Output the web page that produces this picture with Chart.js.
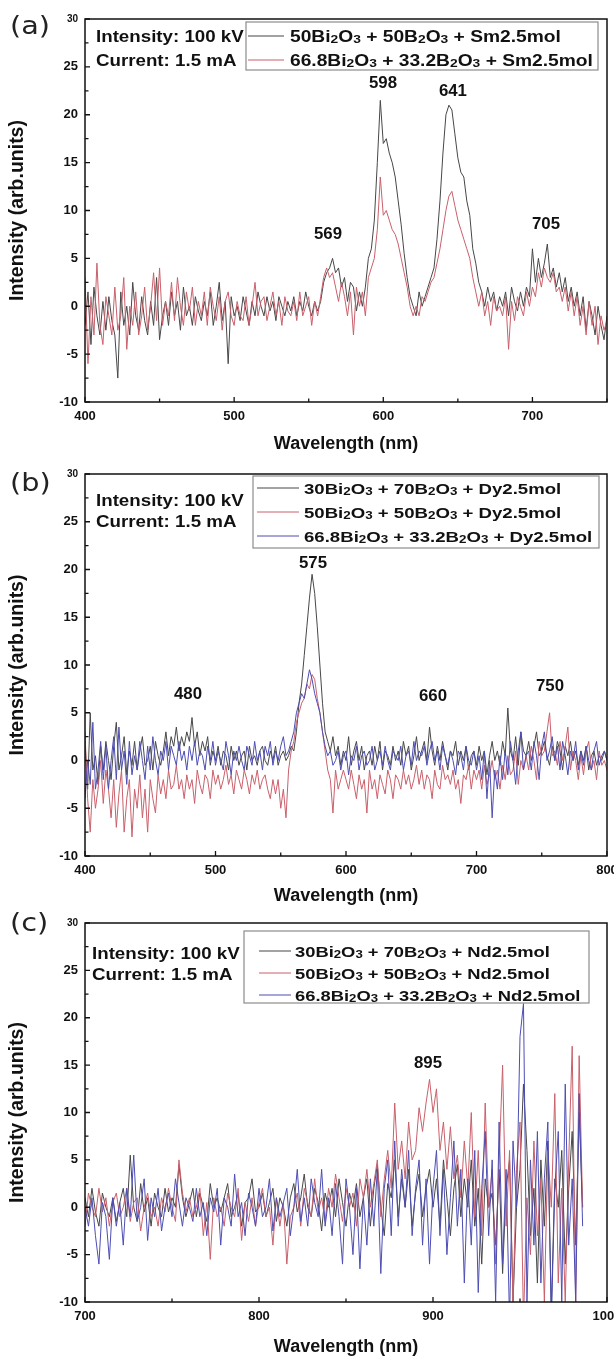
<!DOCTYPE html>
<html>
<head>
<meta charset="utf-8">
<title>X-ray excited luminescence spectra</title>
<script src="https://cdn.jsdelivr.net/npm/chart.js@4.4.1/dist/chart.umd.min.js"></script>
<style>
    body { margin: 0; background: #fff; }
    #wrap { position: relative; width: 614px; height: 1358px; }
    canvas { position: absolute; left: 0; }
</style>
</head>
<body>
<div id="wrap">
    <canvas id="chartA" width="614" height="455" style="top:0px"></canvas>
    <canvas id="chartB" width="614" height="452" style="top:455px"></canvas>
    <canvas id="chartC" width="614" height="451" style="top:907px"></canvas>
</div>
<script>
// ---- data (a): Sm doped, 400-750 nm, every 2 nm
const smStart = 400, smStep = 2;
const smBi50 = [
    -2, 1.5, -4, 2, -1, -3, 0.5, -2.5, 1, -1.5,
    -3, -7.5, 1.5, -2, 0, -3, 2.5, -1, -2.5, 1,
    -1.5, -3, 0.5, -2, 3, -3.5, -1, 0.5, -2, 1.5,
    -1, 0.5, -2.5, 2, -1, 0, -2, 1, -0.5, -1.5,
    0.5, -1, 1.5, -2, 0, 2.5, -1.5, 0.5, -6, 1,
    -1, 0, -1.5, 1, -0.5, -2, 0.5, -1, 1.5, 0,
    -1, 1, -0.5, 0.5, -1.5, 1, 0, -1, 0.5, -0.5,
    1, -1, 0.5, -0.5, 1.5, 0, -1, 0.5, -0.5, 0.5,
    2.5, 3.5, 4, 5, 3.5, 4, 2, 3, 0.5, 2.5,
    2, -0.5, 1.5, 0, 2, 5, 6, 9, 15, 21.5,
    17, 17.5, 16, 15, 13.5, 11, 8.5, 5.5, 3, 1,
    0, -1, 1.5, 0, 1, 2, 3, 4, 7, 11,
    16, 20, 21, 20.5, 18, 15.5, 14, 13.5, 11, 9.5,
    6, 4.5, 2.5, 1.5, 0, 2, 0.5, 1.5, -0.5, 1,
    0, 1.5, -1, 2, 0.5, -0.5, 1.5, 0, 2, 1,
    6, 2.5, 5, 3, 4.5, 6.5, 3, 4, 2, 3.5,
    1.5, 3, 0.5, 2, 0, 1.5, -1, 1, -2.5, 0.5,
    -1, -3, 0, -2, -3.5, -1
];
const smBi668 = [
    3, -6, 1, -3, 4.5, -2, -4, 1, -1, -3,
    2, -2.5, -1, 3, -4.5, 0, -2, 1.5, -3, -1,
    2, -2.5, 0, 3.5, -1.5, 4, -2, 0.5, -1, 2.5,
    -1.5, 3, 0, -2, 1.5, -0.5, 2, -2, 0.5, -1,
    1.5, -2, 2, 0, -1.5, 1, -2.5, 0.5, 1.5, -1,
    -2, 0.5, -1, -1.5, 1, -2, 0, 2.5, -1, 0.5,
    1, -1.5, 0, 1.5, -1, 0.5, -2, 1, -0.5, -1,
    0.5, -1.5, 1.5, -1, 0, 1, -2, 0.5, -1, 1,
    3, 4, 3, 3.5, 2, 0.5, 2.5, 1, -1, 1.5,
    -3, 2, 0, 1.5, -1, 3, 4, 5, 8, 13.5,
    9.5, 10, 9, 8, 7.5, 6.5, 5, 3.5, 2, 0,
    -1, 0, -1, 1, 0.5, 1.5, 2.5, 3, 4.5, 6,
    8, 10, 11.5, 12, 10.5, 9, 8, 7, 6, 5,
    3, 1.5, 0, 1.5, -1, 0.5, -2, 1, -0.5, 0,
    -1, 1, -4.5, 0.5, -1.5, 1, 0, -1, 1.5, 0,
    2, 1, 3.5, 2, 4, 3, 2.5, 3.5, 1.5, 2,
    0.5, 2, -0.5, 1.5, -1, 1, -2, 0, -3, 0.5,
    -2, 0, -4, -1, -2.5, -1.5
];
const smLegend = ['50Bi₂O₃ + 50B₂O₃ + Sm2.5mol', '66.8Bi₂O₃ + 33.2B₂O₃ + Sm2.5mol'];
const smPeaks = ['598', '641', '569', '705'];

// ---- data (b): Dy doped, 400-800 nm, every 2 nm
const dyStart = 400, dyStep = 2;
const dyBi30 = [
    2, -3, 5, -1, 0.5, -2.5, 1.5, -1, 2, 0,
    -2, 1.5, 4, -1, 0.5, 2.5, -1.5, 1, -0.5, 2,
    -1, 1, 2.5, -0.5, 0, 1.5, -1, 2, 0.5, -0.5,
    1, 3, 0.5, 2.5, 1.5, 3.5, 1, 2.5, 1.5, 3,
    2, 4.5, 1.5, 3, 0.5, 2, 1, 2.5, -0.5, 1,
    0, 1.5, -0.5, 1, 0.5, -1, 1.5, 0, 1, -0.5,
    0.5, 1, -1, 1.5, 0, 0.5, -0.5, 1, 1.5, 0,
    -0.5, 1, 0, 1.5, -0.5, 0.5, 1, 0, 0.5, 1.5,
    1, 3, 6, 8, 11, 14, 17, 19.5, 17.5, 14,
    10, 6, 3, 2, 1, 2.5, 0.5, 1.5, -0.5, 1,
    0, 2.5, -0.5, 1, 2, 0, 1.5, -1, 0.5, 1,
    -0.5, 1.5, 0, 2, -1, 1, 0.5, -0.5, 1.5, 0,
    1, -0.5, 2, 0.5, 1.5, -1, 0.5, 2.5, 0, 1,
    2, 0, 3.5, 1, -0.5, 1.5, 0, 2, 0.5, -1,
    1, 0.5, 2, -0.5, 1, 0, 1.5, -1, 0.5, 1,
    -0.5, 1.5, 0, 1, -1.5, 0.5, 2, 0, 1, -0.5,
    2, 0.5, 5.5, 1, 0, 2.5, -0.5, 3, 1, 0.5,
    2, 0, 1.5, 3, 0.5, 1, 2, 0.5, -0.5, 1.5,
    0, 2, 1, -1, 1.5, 0.5, 2, 0, 1, -0.5,
    1, 0, 1.5, -1, 0.5, 1, -0.5, 0.5, 0, 1,
    0
];
const dyBi50 = [
    3, -4, -7.5, -2, -5, -3, 0, -4.5, -1, -3,
    -6, -2, -7, -3.5, -1, -7.5, -4, -2, -8, -3,
    -5, -1.5, -6, -3, -7.5, -2, -4, -5.5, -1.5, -3.5,
    -2, -4, -1, -3, -2.5, -0.5, -3, -2, -4, -1.5,
    -3, -2, -4.5, -1, -2.5, -3.5, -1.5, -2, -4, -1,
    -2.5, -1.5, -3, -2, -0.5, -2.5, -1.5, -3.5, -1, -2,
    -3, -1, -2, -3.5, -1.5, -2.5, -1, -3, -2, -1.5,
    -3, -4, -2, -3.5, -2, -5, -3, -6, -1, 1,
    2, 4, 5, 6, 6.5, 8, 7.5, 9, 8.5, 6.5,
    5, 3, 1, -1, -2, -5.5, -1, -3, -2, -1,
    -2, -3, -1, -2.5, -4, -1.5, -3, -2, -5.5, -1,
    -3, -2, -4, -1.5, -2.5, -3.5, -1, -2, -4, -1.5,
    -2, -3, -1, -2.5, -1.5, -3, -2, -0.5, -2.5, -1,
    -3, -1.5, -2, -4, -1, -2.5, -3, -0.5, -2, -1.5,
    -2.5, -1, -3, -2, -4.5, -1.5, -2, -0.5, -3, -1,
    -2, -1, -3, -0.5, -2.5, -1.5, 0, -2, -1, -3,
    -0.5, -2, 0.5, -1.5, -1, 1, -2.5, 0, -1, 0.5,
    -1, 1.5, 0, -2, 2, 0.5, 1, 3, 5, 0.5,
    1, -0.5, 2, 0, 1.5, 3.5, -1, 1, 0, -2,
    0.5, -1.5, 1, 2, -1, 0, -2, 1, -0.5, 0,
    -1
];
const dyBi668 = [
    -4, 0, -2.5, 4, -3, -1, 2, -2, 1.5, -3,
    0, 2.5, -2, 3.5, -1, 1, -2.5, 2, -1.5, 0.5,
    -1, 2, 0, -2, 1.5, -1, 2.5, 0, -1.5, 1,
    0, 2, -1, 1.5, 0.5, -0.5, 2, 0, 1, -1,
    1.5, 0, 2, -0.5, 1, 0.5, -1, 1.5, 0, 2,
    -0.5, 1, 0, -1, 2, 0.5, -1.5, 1, 0, 1.5,
    0, -1, 1.5, 0.5, -0.5, 2, 0, 1, -1, 1.5,
    0.5, 2, -0.5, 1, 0, 1.5, 2.5, 0.5, 1, 2,
    3, 5, 6, 7, 6.5, 8, 9.5, 8.5, 7, 6,
    5, 3, 1.5, 0.5, 1, -0.5, 0, 1, -1, 0.5,
    1, -1.5, 0.5, 0, 1.5, -1, 0.5, 1, -0.5, 0,
    1.5, -1, 0, 1, -0.5, 1.5, 0, -1, 1, 0.5,
    0, 1.5, -1, 0.5, 1, -0.5, 2, 0, 1, 0.5,
    1.5, -0.5, 1, 2, 0, 1, -1, 1.5, 0.5, -0.5,
    1, 0, -1.5, 1, 0.5, -1, 1.5, 0, -0.5, 1,
    -1, 0.5, -2, 1, -4, 0, -6, -1, -3, 0.5,
    -2, 1, -1.5, 2, 0, -2.5, 1, 3, -1, 0.5,
    1, -1, 2, 0.5, -2, 1.5, 3, 0, 1, 2.5,
    0, 1.5, -1, 2, 0.5, -1.5, 1, 0, 2, -1,
    1, -0.5, 1.5, 0, -1, 1, 2, -0.5, 0.5, 1,
    0
];
const dyLegend = ['30Bi₂O₃ + 70B₂O₃ + Dy2.5mol', '50Bi₂O₃ + 50B₂O₃ + Dy2.5mol', '66.8Bi₂O₃ + 33.2B₂O₃ + Dy2.5mol'];
const dyPeaks = ['480', '575', '660', '750'];

// ---- data (c): Nd doped, 700-986 nm, every 2 nm
const ndStart = 700, ndStep = 2;
const ndBi30 = [
    1, -1, 2, -0.5, -2, 1.5, 0, -1, 1, -1.5,
    0.5, 2, -1, 5.5, 0, -1.5, 2.5, -0.5, 1, -2,
    1.5, 0, -1, 2, -0.5, 1, 0, 4.5, 1, -1,
    0.5, 2, -1, 1.5, 0, -1.5, 2.5, 0, 1, -0.5,
    1, 2.5, -1, 0, 1.5, -2, 0.5, 1, 3, -0.5,
    0, 1.5, -1, 0.5, 2, -1.5, 1, 0, -2, 1,
    2.5, -0.5, 1, 3.5, 0, -1, 2, 0.5, -2.5, 1.5,
    0, 2, -1, 3, 0.5, -2, 1.5, 0, 2.5, -1,
    1, 3, -2, 2, 4.5, 0, -3, 2.5, 1, 5,
    -1, 3, 0, 4, -2, 1.5, 3.5, -1, 2, 4,
    0, 3, -2, 5, 1, -3, 2, 4.5, -1, 3,
    0, 5, -2, 2, -6, 3, 0, 1.5, -4, 4,
    -7, 2, 5, -10, 0, 4, 13, 6, -3, 2,
    -8, 5, -2, 7, -11, 3, 0, 6, -6, 2,
    8, -4, 10, 0
];
const ndBi50 = [
    -2, 1.5, 0, -1, 2, -0.5, 1, -2, 0.5, 1.5,
    -1, 0, 2, -1.5, 0.5, 1, -2.5, 0, 1.5, -1,
    0, -2, 1, -0.5, 2, 0, -1.5, 5, 1.5, -0.5,
    1, -1, 0, 2, -3, 0.5, -5.5, 1, -1, 0,
    -2, 1.5, 0, -1, 2, -3.5, 0.5, -1.5, 1, -2,
    0.5, 2, -1, 0, -4, 1, -2, 0.5, -6, -1,
    0, 1.5, -2, 2, 0.5, -1, 3, -0.5, 1, -1.5,
    2, 0, 3.5, 1, -1.5, 2, 0, 1.5, -2, 3,
    1, 4, 0, 2.5, 5, -1, 3, 6, 2, 11,
    4, 7, 3, 9, 5, 6, 10.5, 8, 11, 13.5,
    10, 12.5, 6, 9, 4, 8.5, 3, 5.5, 1, 7,
    2, 10, -1, 6, -3, 11, 0, 4, -6, 5,
    15, -2, 6, -10, 4, 9, -12, 1, -5, 7,
    -3, 3, -10, 6, 0, 12, -8, 2, -10, 5,
    17, -10, 16, 0
];
const ndBi668 = [
    0, -2, 1, -3, -6, 0.5, -1, -5.5, 1, -2,
    0.5, -4, 2, -1, 5.5, -1.5, 0, 3, -3.5, 1,
    -1, 2, -2.5, 0, 1.5, -1, 3, 0.5, -2, 1,
    0, -1.5, 2, -1, 0.5, -3, 1, -0.5, 2, -4,
    1, 0, -2, 3.5, -1, 0.5, -3, 1.5, 0, -2,
    2, -1, 0, 3, -2.5, 1, -1, 0.5, 2, -3,
    0, 4, -1.5, 1, -2, 3, 0.5, -1, 4, -2,
    1, -3, 2.5, -1, -6, 3, 0, -5, 2, -6.5,
    1, -4, 3, -2, 4, -7, 2, 5, -3, 7,
    -2, 4, 0, 6, -3, 2, 5, -4, 3, -6,
    2, 6, -3, 4, -5, 1, 7, -2, 4, -8,
    3, -4, 6, -9, 2, 8, -3, 5, -10, 9,
    -6, 4, -12, 7, 0, 18, 21.5, -10, 5, -4,
    8, -8, 3, 9, -12, 2, 8, -10, 13, -4,
    3, -10, 12, -2
];
const ndLegend = ['30Bi₂O₃ + 70B₂O₃ + Nd2.5mol', '50Bi₂O₃ + 50B₂O₃ + Nd2.5mol', '66.8Bi₂O₃ + 33.2B₂O₃ + Nd2.5mol'];
const ndPeaks = ['895'];

const conditionText = ['Intensity: 100 kV', 'Current: 1.5 mA'];
const yTickMin = -10, yTickMax = 30, yTickStep = 5;

const FONT = '"Liberation Sans", Arial, sans-serif';
const COLORS = { black: '#474747', red: '#c9606b', blue: '#4d4db3' };

// layout of each panel (canvas-relative pixels)
const panels = [
    {
        id: 'chartA', letter: '(a)', height: 455, plotTop: 19, plotBottom: 402,
        xMin: 400, xMax: 750, start: smStart, step: smStep,
        series: [smBi50, smBi668], colors: [COLORS.black, COLORS.red], order: [1, 0],
        legend: smLegend, legendSize: 16,
        legendBox: { x: 246, y: 22, w: 352, h: 48, rows: [36, 60], lineX: [248, 284], textX: 290 },
        infoRows: [36, 60], infoX: 96, letterY: 25,
        peaks: smPeaks, peakAt: [[599.8, 23.4], [646.7, 22.6], [562.9, 7.6], [709.1, 8.7]]
    },
    {
        id: 'chartB', letter: '(b)', height: 452, plotTop: 19, plotBottom: 401,
        xMin: 400, xMax: 800, start: dyStart, step: dyStep,
        series: [dyBi30, dyBi50, dyBi668], colors: [COLORS.black, COLORS.red, COLORS.blue], order: [2, 1, 0],
        legend: dyLegend, legendSize: 15.5,
        legendBox: { x: 253, y: 21, w: 346, h: 72, rows: [33, 57, 81], lineX: [257, 299], textX: 304 },
        infoRows: [45, 66], infoX: 96, letterY: 27,
        peaks: dyPeaks, peakAt: [[478.9, 7.1], [574.7, 20.8], [666.7, 6.9], [756.3, 7.9]]
    },
    {
        id: 'chartC', letter: '(c)', height: 451, plotTop: 16, plotBottom: 395,
        xMin: 700, xMax: 1000, start: ndStart, step: ndStep,
        series: [ndBi30, ndBi50, ndBi668], colors: [COLORS.black, COLORS.red, COLORS.blue], order: [2, 1, 0],
        legend: ndLegend, legendSize: 15.3,
        legendBox: { x: 244, y: 24, w: 345, h: 72, rows: [44, 66, 88], lineX: [259, 291], textX: 295 },
        infoRows: [46, 67], infoX: 92, letterY: 15,
        peaks: ndPeaks, peakAt: [[897.1, 15.3]]
    }
];

// text with unicode subscripts drawn smaller, optional horizontal stretch
const SUBS = { '₀': '0', '₁': '1', '₂': '2', '₃': '3' };
function drawRich(ctx, text, x, y, size, o) {
    o = o || {};
    const sx = o.sx || 1, weight = o.weight || 'bold', family = o.family || FONT;
    const runs = [];
    for (const ch of text) {
        const sub = ch in SUBS;
        const c = sub ? SUBS[ch] : ch;
        const last = runs[runs.length - 1];
        if (last && last.sub === sub) last.t += c; else runs.push({ t: c, sub: sub });
    }
    let total = 0;
    runs.forEach(r => {
        ctx.font = weight + ' ' + (r.sub ? size * 0.72 : size) + 'px ' + family;
        r.w = ctx.measureText(r.t).width;
        total += r.w;
    });
    ctx.save();
    ctx.fillStyle = o.color || '#111';
    ctx.textBaseline = 'alphabetic';
    ctx.textAlign = 'left';
    ctx.translate(x, y);
    ctx.scale(sx, 1);
    let cx = o.align === 'center' ? -total / 2 : 0;
    runs.forEach(r => {
        ctx.font = weight + ' ' + (r.sub ? size * 0.72 : size) + 'px ' + family;
        ctx.fillText(r.t, cx, r.sub ? size * 0.1 : 0);
        cx += r.w;
    });
    ctx.restore();
}

function decor(p) {
    return {
        id: 'decor' + p.id,
        afterDraw(chart) {
            const ctx = chart.ctx;
            const a = chart.chartArea;
            const xs = chart.scales.x, ys = chart.scales.y;
            ctx.save();
            // frame
            ctx.strokeStyle = '#111';
            ctx.lineWidth = 1.5;
            ctx.strokeRect(a.left, a.top, a.right - a.left, a.bottom - a.top);
            // inward tick marks, major and minor
            ctx.lineWidth = 1.3;
            ctx.beginPath();
            for (let v = p.xMin; v <= p.xMax; v += 50) {
                const px = xs.getPixelForValue(v);
                const len = v % 100 === 0 ? 5 : 3.5;
                ctx.moveTo(px, a.bottom);
                ctx.lineTo(px, a.bottom - len);
            }
            for (let v = yTickMin; v <= yTickMax; v += yTickStep / 2) {
                const py = ys.getPixelForValue(v);
                const len = v % yTickStep === 0 ? 5 : 3.5;
                ctx.moveTo(a.left, py);
                ctx.lineTo(a.left + len, py);
            }
            ctx.stroke();
            // legend box
            const lb = p.legendBox;
            ctx.strokeStyle = '#8c8c8c';
            ctx.lineWidth = 1.2;
            ctx.strokeRect(lb.x, lb.y, lb.w, lb.h);
            p.legend.forEach((label, i) => {
                const ry = lb.rows[i];
                ctx.strokeStyle = p.colors[i];
                ctx.lineWidth = 1;
                ctx.beginPath();
                ctx.moveTo(lb.lineX[0], ry);
                ctx.lineTo(lb.lineX[1], ry);
                ctx.stroke();
                drawRich(ctx, label, lb.textX, ry + 5.8, p.legendSize, { sx: 1.2 });
            });
            // measurement conditions
            conditionText.forEach((t, i) => {
                drawRich(ctx, t, p.infoX, p.infoRows[i] + 5.8, 16, { sx: 1.17 });
            });
            // peak labels
            p.peaks.forEach((t, i) => {
                const px = xs.getPixelForValue(p.peakAt[i][0]);
                const py = ys.getPixelForValue(p.peakAt[i][1]);
                drawRich(ctx, t, px, py + 6, 16, { align: 'center', sx: 1.05 });
            });
            // panel letter
            drawRich(ctx, p.letter, 10, p.letterY + 9, 25, { weight: 'normal', family: '"DejaVu Sans", sans-serif', sx: 1.15, color: '#222' });
            ctx.restore();
        }
    };
}

panels.forEach(p => {
    const datasets = p.series.map((values, i) => ({
        label: p.legend[i],
        data: values.map((v, k) => ({ x: p.start + k * p.step, y: v })),
        borderColor: p.colors[i],
        borderWidth: 1,
        pointRadius: 0,
        tension: 0,
        fill: false,
        order: p.order[i]
    }));

    new Chart(document.getElementById(p.id), {
        type: 'line',
        data: { datasets: datasets },
        options: {
            responsive: false,
            animation: false,
            events: [],
            layout: { padding: { top: p.plotTop, right: 7, left: 0, bottom: 0 } },
            plugins: {
                legend: { display: false },
                tooltip: { enabled: false }
            },
            scales: {
                x: {
                    type: 'linear',
                    min: p.xMin,
                    max: p.xMax,
                    grid: { display: false, drawTicks: false },
                    border: { display: false },
                    ticks: {
                        stepSize: 100,
                        includeBounds: false,
                        autoSkip: false,
                        maxRotation: 0,
                        padding: 7,
                        color: '#111',
                        font: { family: FONT, size: 13, weight: 'bold' },
                        callback: (v) => String(v)
                    },
                    title: {
                        display: true,
                        text: 'Wavelength (nm)',
                        color: '#111',
                        font: { family: FONT, size: 18, weight: 'bold' },
                        padding: { top: 0, bottom: 0 }
                    },
                    afterFit: (s) => {
                        s.height = p.height - p.plotBottom;
                        s.paddingLeft = 0;
                        s.paddingRight = 0;
                    }
                },
                y: {
                    min: yTickMin,
                    max: yTickMax,
                    grid: { display: false, drawTicks: false },
                    border: { display: false },
                    ticks: {
                        stepSize: yTickStep,
                        padding: 7,
                        color: '#111',
                        font: (c) => ({ family: FONT, size: c.tick && c.tick.value === yTickMax ? 10 : 13, weight: 'bold' })
                    },
                    title: {
                        display: true,
                        text: 'Intensity (arb.units)',
                        color: '#111',
                        font: { family: FONT, size: 19.5, weight: 'bold' },
                        padding: { top: 5.5, bottom: 0 }
                    },
                    afterFit: (s) => {
                        s.width = 85;
                        s.paddingTop = 0;
                        s.paddingBottom = 0;
                    }
                }
            }
        },
        plugins: [decor(p)]
    });
});
</script>
</body>
</html>
